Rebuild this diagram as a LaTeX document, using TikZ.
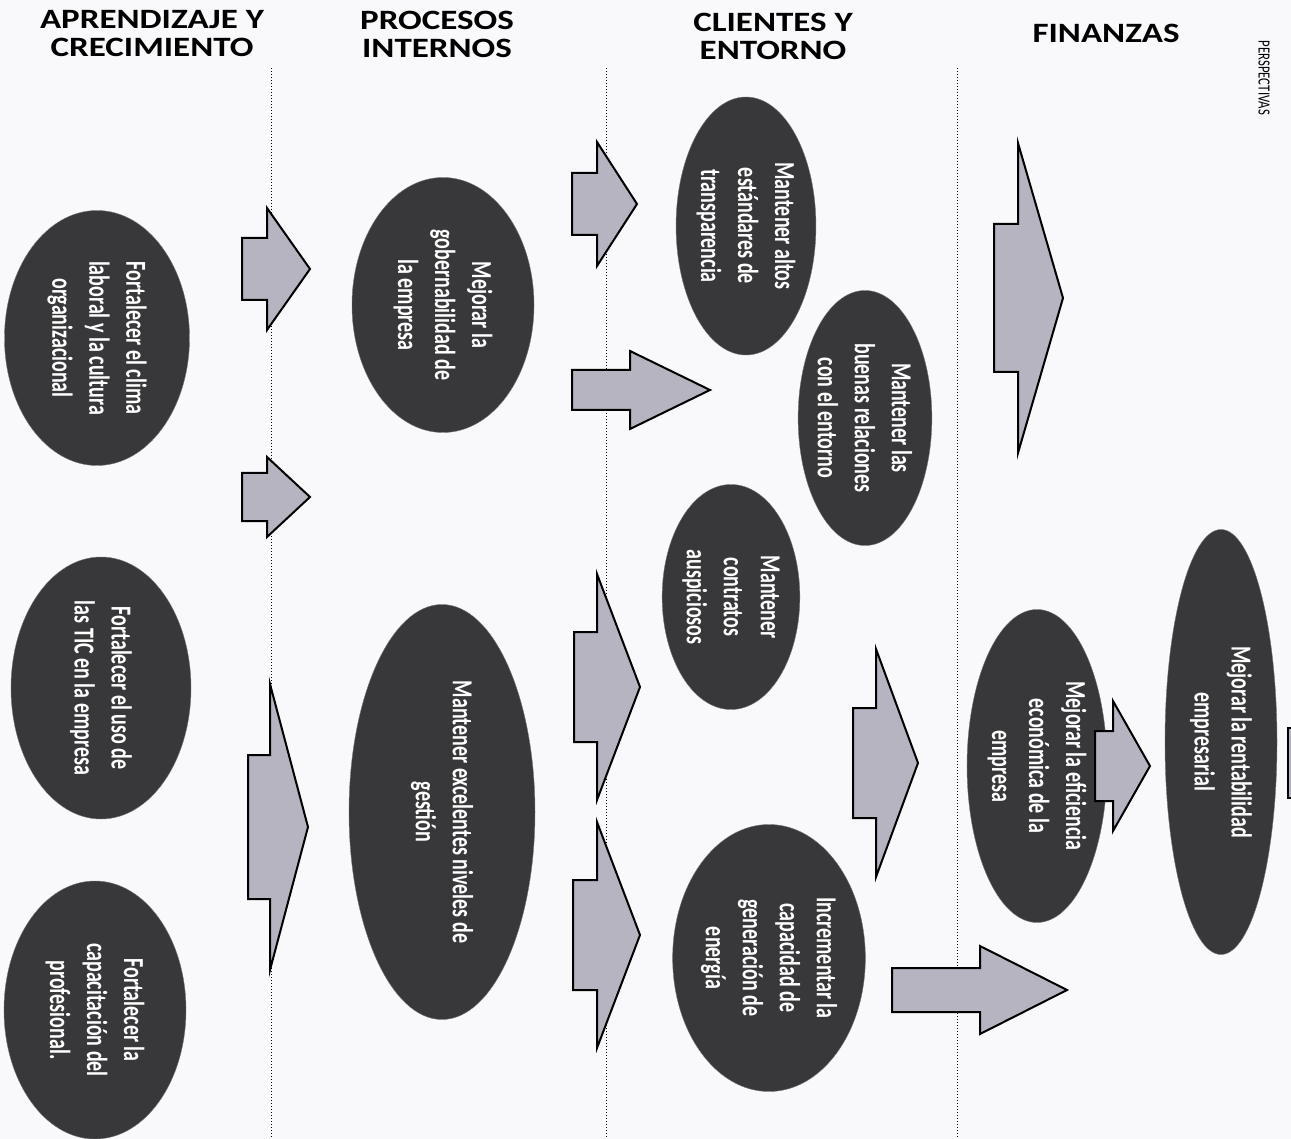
\documentclass[tikz,border=0pt]{standalone}
\usepackage{fontspec}
\setmainfont{Carlito}
\newfontfamily\ovalfont[FakeStretch=0.69]{Carlito}
\newfontfamily\headfont[FakeStretch=1.25]{Carlito}
\newfontfamily\perspfont[FakeStretch=0.75]{Carlito}
\usetikzlibrary{shapes.geometric,backgrounds}
\definecolor{ovalgray}{RGB}{56,56,58}
\definecolor{arrowgray}{RGB}{182,180,192}
\definecolor{paper}{RGB}{249,249,251}

\begin{document}
\begin{tikzpicture}[x=1pt, y=-1pt,
    oval/.style={ellipse, fill=ovalgray, draw=ovalgray!70, text=white, inner sep=0pt, rotate=-90, align=center, font=\ovalfont\bfseries\fontsize{29}{37}\selectfont},
    blockarrow/.style={draw=black, line width=2pt, fill=arrowgray, line join=miter},
    head/.style={align=center, font=\headfont\bfseries\fontsize{28}{28}\selectfont},
    sepline/.style={dotted, line width=1pt}]
    \useasboundingbox[fill=paper] (0,0) rectangle (1291,1139);
    % perspectivas
    \node[head] (aprendizaje) at (152,34) {APRENDIZAJE Y\\CRECIMIENTO};
    \node[head] (procesos) at (437,34) {PROCESOS\\INTERNOS};
    \node[head] (clientes) at (773,36) {CLIENTES Y\\ENTORNO};
    \node[head] (finanzas) at (1106,33) {FINANZAS};
    \node[rotate=-90, font=\perspfont\fontsize{17}{20}\selectfont] (perspectivas) at (1264,78) {PERSPECTIVAS};
    \foreach \x in {271,606,957}{\draw[sepline] (\x,68) -- (\x,1139);}
    % objetivos
    \node[oval, minimum width=255pt, minimum height=185pt] (clima) at (97,338) {Fortalecer el clima\\laboral y la cultura\\organizacional};
    \node[oval, minimum width=262pt, minimum height=180pt] (tic) at (101,688) {Fortalecer el uso de\\las TIC en la empresa};
    \node[oval, minimum width=258pt, minimum height=182pt] (capacitacion) at (95,1010) {Fortalecer la\\capacitación del\\profesional.};
    \node[oval, minimum width=255pt, minimum height=182pt] (gobernabilidad) at (443,305) {Mejorar la\\gobernabilidad de\\la empresa};
    \node[oval, minimum width=415pt, minimum height=186pt] (gestion) at (442,812) {Mantener excelentes niveles de\\gestión};
    \node[oval, minimum width=258pt, minimum height=132pt] (transparencia) at (746,226) {Mantener altos\\estándares de\\transparencia};
    \node[oval, minimum width=255pt, minimum height=122pt] (entorno) at (865,418) {Mantener las\\buenas relaciones\\con el entorno};
    \node[oval, minimum width=225pt, minimum height=107pt] (contratos) at (731,597) {Mantener\\contratos\\auspiciosos};
    \node[oval, minimum width=267pt, minimum height=168pt] (energia) at (769,958) {Incrementar la\\capacidad de\\generación de\\energía};
    \node[oval, minimum width=313pt, minimum height=112pt] (eficiencia) at (1037,766) {Mejorar la eficiencia\\económica de la\\empresa};
    \node[oval, minimum width=425pt, minimum height=112pt] (rentabilidad) at (1221,742) {Mejorar la rentabilidad\\empresarial};
    % flechas
    \foreach \xa/\xb/\xt/\yc/\s/\h in {242/267/310/269/31/61, 242/267/310/497/24/40, 248/270/308/827/72/143,
        572/597/637/204/31/62, 572/630/710/390/20/39, 574/597/640/687/55/113, 573/597/640/935/55/113,
        853/876/918/763/55/114, 892/980/1067/990/22/44, 994/1018/1063/298/74/155, 1095/1113/1150/766/35/65}{
        \draw[blockarrow] (\xa,\yc-\s) -- (\xb,\yc-\s) -- (\xb,\yc-\h) -- (\xt,\yc) -- (\xb,\yc+\h) -- (\xb,\yc+\s) -- (\xa,\yc+\s) -- cycle;}
    \draw[blockarrow] (1288,728) rectangle (1300,798);
\end{tikzpicture}
\end{document}
